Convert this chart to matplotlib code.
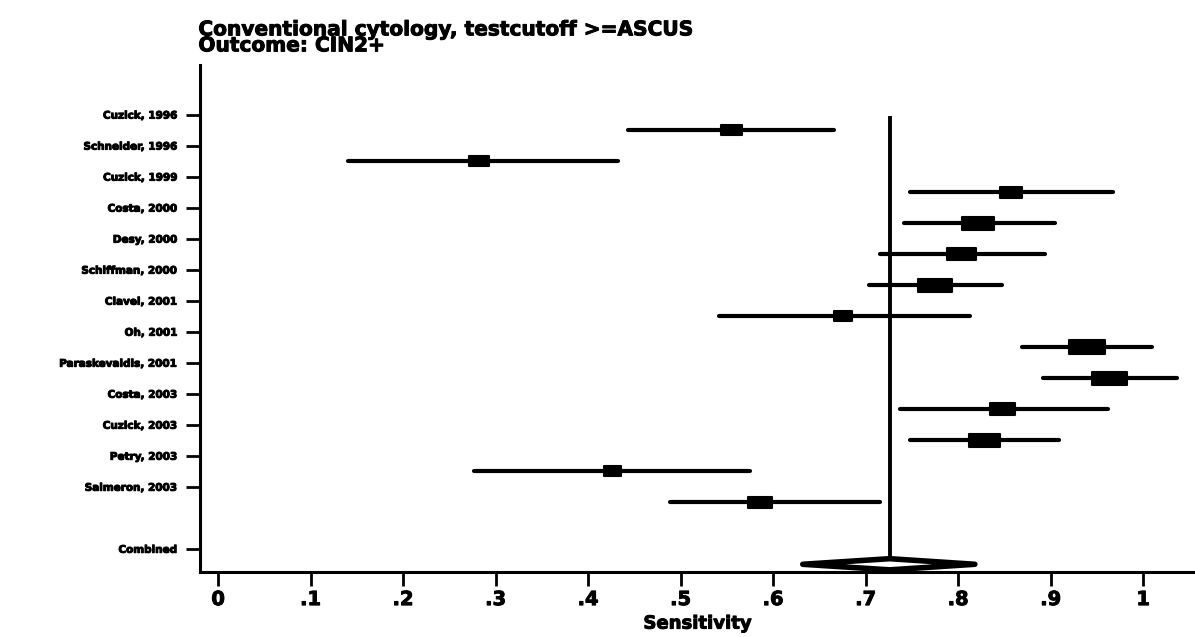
import numpy as np
import matplotlib
matplotlib.use("Agg")
import matplotlib.pyplot as plt
from matplotlib.patches import Rectangle, Polygon
import matplotlib.patheffects as pe

# datos
estudios = ["Cuzick, 1996", "Schneider, 1996", "Cuzick, 1999", "Costa, 2000",
            "Desy, 2000", "Schiffman, 2000", "Clavel, 2001", "Oh, 2001",
            "Paraskevaidis, 2001", "Costa, 2003", "Cuzick, 2003", "Petry, 2003",
            "Salmeron, 2003"]
sens = [0.555, 0.282, 0.857, 0.821, 0.804, 0.775, 0.676, 0.939, 0.964, 0.848, 0.828, 0.426, 0.586]
ci_lo = [0.443, 0.140, 0.748, 0.741, 0.716, 0.704, 0.541, 0.869, 0.892, 0.737, 0.748, 0.277, 0.488]
ci_hi = [0.666, 0.432, 0.967, 0.905, 0.894, 0.847, 0.813, 1.010, 1.037, 0.962, 0.909, 0.575, 0.715]
peso = [20, 20, 22, 32, 29, 34, 18, 36, 35, 25, 31, 17, 24]

comb_est = 0.726
comb_lo = 0.632
comb_hi = 0.818

xticks = [0, .1, .2, .3, .4, .5, .6, .7, .8, .9, 1]
xticklabels = ["0", ".1", ".2", ".3", ".4", ".5", ".6", ".7", ".8", ".9", "1"]

fig = plt.figure(figsize=(11.95, 6.37), dpi=100)
ax = fig.add_axes([0.167, 0.102, 0.833, 0.796])

n = len(estudios)
filas = np.arange(n)
fila_comb = n + 1
desf = 0.5  # las marcas quedan algo por debajo de las etiquetas en el original
grueso = [pe.withStroke(linewidth=0.7, foreground="black")]

for i in range(n):
    y = filas[i] + desf
    ax.plot([ci_lo[i], ci_hi[i]], [y, y], color="black", lw=3,
            solid_capstyle="round", zorder=2)
    w = peso[i] / 924
    h = 0.22 + 0.006 * peso[i]
    ax.add_patch(Rectangle((sens[i] - w / 2, y - h / 2), w, h,
                           facecolor="black", edgecolor="black", lw=1.5,
                           joinstyle="round", zorder=3))

yc = fila_comb + desf
ax.plot([comb_est, comb_est], [0.1, yc], color="black", lw=2.8, zorder=1)
dia = Polygon([[comb_lo, yc], [comb_est, yc - 0.18], [comb_hi, yc], [comb_est, yc + 0.18]],
              closed=True, facecolor="white", edgecolor="black", lw=4,
              joinstyle="round", zorder=4)
ax.add_patch(dia)

ax.set_yticks(list(filas) + [fila_comb])
ax.set_yticklabels(estudios + ["Combined"], fontsize=7.5, fontweight="bold")
for t in ax.get_yticklabels():
    t.set_path_effects(grueso)
ax.set_xticks(xticks)
ax.set_xticklabels(xticklabels, fontsize=14, fontweight="bold")
for t in ax.get_xticklabels():
    t.set_path_effects(grueso)
ax.set_xlim(-0.02, 1.056)
ax.set_ylim(14.75, -1.6)

ax.spines["top"].set_visible(False)
ax.spines["right"].set_visible(False)
ax.spines["left"].set_linewidth(2.2)
ax.spines["bottom"].set_linewidth(2.2)
ax.tick_params(axis="y", length=10, width=2, pad=6)
ax.tick_params(axis="x", length=10, width=2, pad=3)

ax.set_xlabel("Sensitivity", fontsize=13, fontweight="bold", labelpad=4,
              path_effects=grueso)
fig.text(0.166, 0.968, "Conventional cytology, testcutoff >=ASCUS\nOutcome: CIN2+",
         fontsize=14.5, fontweight="bold", va="top", ha="left", linespacing=0.8,
         path_effects=grueso)

plt.savefig("out.png", dpi=100)
